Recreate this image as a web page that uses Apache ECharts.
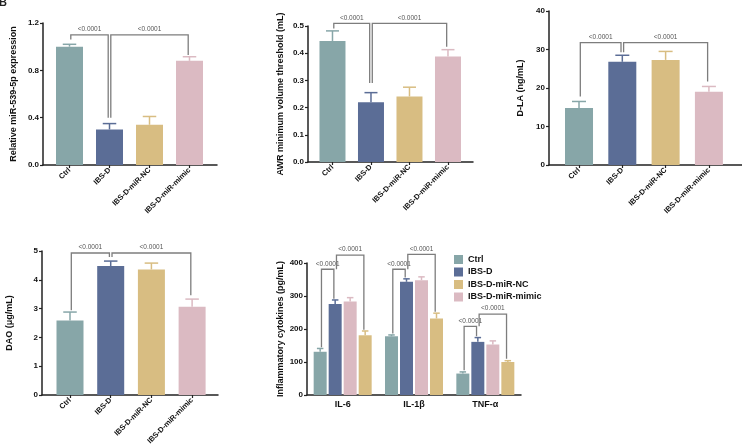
<!DOCTYPE html>
<html>
<head>
<meta charset="utf-8">
<script src="https://cdn.jsdelivr.net/npm/echarts@6/dist/echarts.min.js"></script>
<style>
html, body { margin: 0; padding: 0; background: #fff; }
#main { width: 742px; height: 448px; }
</style>
</head>
<body>
<div id="main"></div>
<script>
// groups and colours
var groups = ['Ctrl', 'IBS-D', 'IBS-D-miR-NC', 'IBS-D-miR-mimic'];
var colors = ['#87a6a8', '#5b6d96', '#d8bd82', '#dbbac2'];

// panel A - miR-539-5p
var mirMean = [1.00, 0.30, 0.34, 0.88];
var mirSd = [0.02, 0.05, 0.07, 0.035];
// panel B - AWR
var awrMean = [0.445, 0.220, 0.241, 0.388];
var awrSd = [0.037, 0.035, 0.034, 0.025];
// panel C - D-LA
var dlaMean = [14.8, 26.8, 27.3, 19.0];
var dlaSd = [1.7, 1.7, 2.2, 1.4];
// panel D - DAO
var daoMean = [2.59, 4.48, 4.36, 3.06];
var daoSd = [0.29, 0.17, 0.22, 0.27];

// panel E - cytokines (bar order as drawn: teal, blue, pink, yellow)
var cytokines = ['IL-6', 'IL-1β', 'TNF-α'];
var ctrlMean = [131, 178, 65];
var ctrlSd = [10, 4, 5];
var ibsdMean = [276, 343, 161];
var ibsdSd = [12, 9, 13];
var ncMean = [283, 348, 153];
var ncSd = [12, 10, 11];
var mimicMean = [181, 232, 100];
var mimicSd = [13, 16, 4];

// significance brackets: [cat, from, to, level, leftBottom, rightBottom]
var sigA = [[0, 0, 1, 1.10, 1.06, 0.40], [0, 1, 3, 1.10, 0.40, 0.93]];
var sigB = [[0, 0, 1, 0.51, 0.491, 0.29], [0, 1, 3, 0.51, 0.29, 0.424]];
var sigC = [[0, 0, 1, 31.8, 17.8, 29.3], [0, 1, 3, 31.8, 29.3, 21.7]];
var sigD = [[0, 0, 1, 4.93, 2.94, 4.79], [0, 1, 3, 4.93, 4.79, 3.46]];
var sigE = [
  [0, 0, 1, 381, 145, 292], [0, 1, 3, 424, 381, 198],
  [1, 0, 1, 381, 186, 356], [1, 1, 3, 426, 381, 252],
  [2, 0, 1, 208, 75, 178], [2, 1, 3, 245, 208, 110]
];

var FONT = 'Liberation Sans, Arial, sans-serif';
var AXC = '#222';

var chart = echarts.init(document.getElementById('main'));

function errorItem(barW, offset) {
  return function (params, api) {
    var x = api.value(0), m = api.value(1), s = api.value(2);
    var p0 = api.coord([x, m]);
    var p1 = api.coord([x, m + s]);
    var cx = p0[0] + offset;
    var half = barW / 4;
    var c = api.visual('color');
    return {
      type: 'group',
      children: [
        { type: 'line', shape: { x1: cx, y1: p0[1], x2: cx, y2: p1[1] }, style: { stroke: c, lineWidth: 1.5 } },
        { type: 'line', shape: { x1: cx - half, y1: p1[1], x2: cx + half, y2: p1[1] }, style: { stroke: c, lineWidth: 1.5 } }
      ]
    };
  };
}

function bracketItem(slotStep) {
  return function (params, api) {
    var cat = api.value(0), s1 = api.value(1), s2 = api.value(2);
    var lv = api.value(3), b1 = api.value(4), b2 = api.value(5);
    function px(s, v) {
      if (slotStep) {
        var c = api.coord([cat, v]);
        return [c[0] + (s - 1.5) * slotStep, c[1]];
      }
      return api.coord([s, v]);
    }
    var a = px(s1, b1), b = px(s1, lv), c = px(s2, lv), d = px(s2, b2);
    var ins = 1.3;
    return {
      type: 'group',
      children: [
        {
          type: 'polyline',
          shape: { points: [[a[0] + ins, a[1]], [b[0] + ins, b[1]], [c[0] - ins, c[1]], [d[0] - ins, d[1]]] },
          style: { stroke: '#7d7d7d', lineWidth: 1.3, fill: null }
        },
        {
          type: 'text',
          x: (b[0] + c[0]) / 2, y: b[1] - 2,
          style: { text: '<0.0001', fill: '#555', font: '6.5px ' + FONT, align: 'center', verticalAlign: 'bottom' }
        }
      ]
    };
  };
}

// simple 4-bar panels
var panels = [
  { mean: mirMean, sd: mirSd, sig: sigA, name: 'Relative miR-539-5p expression', gap: 25,
    grid: { left: 43, top: 23, width: 174, height: 142 }, xmin: -0.6625, xmax: 3.6875, barW: 27,
    ymax: 1.2, yint: 0.4, fmt: function (v) { return v.toFixed(1); } },
  { mean: awrMean, sd: awrSd, sig: sigB, name: 'AWR minimum volume threshold (mL)', gap: 23,
    grid: { left: 308, top: 26, width: 165, height: 136 }, xmin: -0.636, xmax: 3.65, barW: 26,
    ymax: 0.5, yint: 0.1, fmt: function (v) { return v.toFixed(1); } },
  { mean: dlaMean, sd: dlaSd, sig: sigC, name: 'D-LA (ng/mL)', gap: 24,
    grid: { left: 549, top: 11, width: 193, height: 154 }, xmin: -0.693, xmax: 3.764, barW: 28,
    ymax: 40, yint: 10, fmt: function (v) { return String(v); } },
  { mean: daoMean, sd: daoSd, sig: sigD, name: 'DAO (μg/mL)', gap: 28,
    grid: { left: 42, top: 251, width: 176, height: 144 }, xmin: -0.688, xmax: 3.636, barW: 27,
    ymax: 5, yint: 1, fmt: function (v) { return String(v); } }
];

var grids = [], xAxes = [], yAxes = [], series = [];

function yAxisOpt(i, max, interval, fmt, name, gap) {
  return {
    type: 'value', gridIndex: i, min: 0, max: max, interval: interval,
    name: name, nameLocation: 'middle', nameGap: gap,
    nameTextStyle: { fontFamily: FONT, fontWeight: 'bold', fontSize: 9, color: '#111' },
    splitLine: { show: false },
    axisLine: { show: true, onZero: false, lineStyle: { color: AXC, width: 1.5 } },
    axisTick: { show: true, length: 3, lineStyle: { color: AXC, width: 1.2 } },
    axisLabel: { fontFamily: FONT, fontWeight: 'bold', fontSize: 8, color: '#111', margin: 4, formatter: fmt }
  };
}

panels.forEach(function (p, i) {
  grids.push(p.grid);
  xAxes.push({
    type: 'value', gridIndex: i, min: p.xmin, max: p.xmax,
    splitLine: { show: false },
    axisLine: { onZero: false, lineStyle: { color: AXC, width: 1.5 } },
    axisTick: { customValues: [0, 1, 2, 3], length: 3, lineStyle: { color: AXC, width: 1.2 } },
    axisLabel: {
      customValues: [0, 1, 2, 3], rotate: 45, margin: 4,
      fontFamily: FONT, fontWeight: 'bold', fontSize: 7.5, color: '#111',
      formatter: function (v) { return groups[Math.round(v)]; }
    }
  });
  yAxes.push(yAxisOpt(i, p.ymax, p.yint, p.fmt, p.name, p.gap));
  var barData = [], errData = [];
  for (var k = 0; k < groups.length; k++) {
    barData.push({ value: [k, p.mean[k]], itemStyle: { color: colors[k] } });
    errData.push({ value: [k, p.mean[k], p.sd[k]], itemStyle: { color: colors[k] } });
  }
  series.push({ type: 'bar', xAxisIndex: i, yAxisIndex: i, barWidth: p.barW, data: barData, z: 2 });
  series.push({ type: 'custom', xAxisIndex: i, yAxisIndex: i, renderItem: errorItem(p.barW, 0), data: errData, z: 3 });
  series.push({ type: 'custom', xAxisIndex: i, yAxisIndex: i, renderItem: bracketItem(0), data: p.sig, z: 4, clip: false });
});

// panel E
grids.push({ left: 307, top: 263, width: 214, height: 132 });
xAxes.push({
  type: 'category', gridIndex: 4, data: cytokines,
  axisLine: { lineStyle: { color: AXC, width: 1.5 } },
  axisTick: { alignWithLabel: true, length: 3, lineStyle: { color: AXC, width: 1.2 } },
  axisLabel: { fontFamily: FONT, fontWeight: 'bold', fontSize: 9, color: '#111', margin: 5 }
});
yAxes.push(yAxisOpt(4, 400, 100, function (v) { return String(v); }, 'Inflammatory cytokines (pg/mL)', 22));

var eSeries = [
  { name: 'Ctrl', mean: ctrlMean, sd: ctrlSd, color: colors[0] },
  { name: 'IBS-D', mean: ibsdMean, sd: ibsdSd, color: colors[1] },
  { name: 'IBS-D-miR-NC', mean: ncMean, sd: ncSd, color: colors[3] },
  { name: 'IBS-D-miR-mimic', mean: mimicMean, sd: mimicSd, color: colors[2] }
];
var BW = 13, STEP = 15;
eSeries.forEach(function (s, j) {
  series.push({
    type: 'bar', name: s.name, xAxisIndex: 4, yAxisIndex: 4,
    barWidth: BW, barGap: ((STEP - BW) / BW * 100) + '%',
    itemStyle: { color: s.color }, data: s.mean, z: 2
  });
});
eSeries.forEach(function (s, j) {
  var d = [];
  for (var k = 0; k < cytokines.length; k++) d.push([k, s.mean[k], s.sd[k]]);
  series.push({
    type: 'custom', xAxisIndex: 4, yAxisIndex: 4, itemStyle: { color: s.color },
    renderItem: errorItem(BW, (j - 1.5) * STEP), data: d, z: 3
  });
});
series.push({ type: 'custom', xAxisIndex: 4, yAxisIndex: 4, renderItem: bracketItem(STEP), data: sigE, z: 4, clip: false });

var option = {
  animation: false,
  backgroundColor: '#fff',
  grid: grids,
  xAxis: xAxes,
  yAxis: yAxes,
  legend: {
    orient: 'vertical', left: 449, top: 250, itemGap: 3.5,
    itemWidth: 9, itemHeight: 9, icon: 'rect',
    textStyle: { fontFamily: FONT, fontWeight: 'bold', fontSize: 9, color: '#111' },
    data: [
      { name: 'Ctrl', itemStyle: { color: colors[0] } },
      { name: 'IBS-D', itemStyle: { color: colors[1] } },
      { name: 'IBS-D-miR-NC', itemStyle: { color: colors[2] } },
      { name: 'IBS-D-miR-mimic', itemStyle: { color: colors[3] } }
    ]
  },
  graphic: [{
    type: 'text', left: -1, top: -3,
    style: { text: 'B', font: 'bold 11px ' + FONT, fill: '#222' }
  }],
  series: series
};
chart.setOption(option);
</script>
</body>
</html>
